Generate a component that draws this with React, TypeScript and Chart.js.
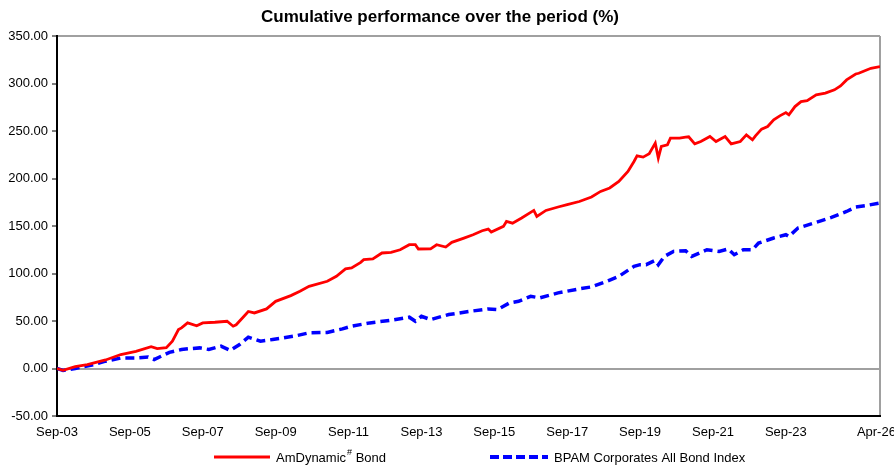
import React, { useEffect, useRef } from "react";
import { Chart, registerables } from "chart.js";

Chart.register(...registerables);

// ---- Data (months counted from Sep-03) ----
const tickMonths = [0, 24, 48, 72, 96, 120, 144, 168, 192, 216, 240, 271];
const tickLabels = ["Sep-03", "Sep-05", "Sep-07", "Sep-09", "Sep-11", "Sep-13", "Sep-15", "Sep-17", "Sep-19", "Sep-21", "Sep-23", "Apr-26"];

const fundName = "AmDynamic";
const fundSup = "#";
const fundSuffix = " Bond";
const indexName = "BPAM Corporates All Bond Index";

const fundMonths = [0, 2, 6, 10, 16, 21, 26, 31, 33, 36, 38, 40, 41, 43, 46, 48, 52, 56, 58, 59, 63, 65, 69, 72, 77, 80, 83, 89, 92, 95, 97, 100, 101, 104, 107, 110, 113, 116, 118, 119, 123, 125, 128, 130, 134, 137, 140, 142, 143, 147, 148, 150, 153, 157, 158, 161, 165, 168, 172, 176, 179, 182, 185, 188, 190, 191, 193, 195, 197, 198, 199, 201, 202, 205, 207, 208, 210, 212, 215, 217, 220, 222, 225, 227, 229, 230, 232, 234, 236, 238, 240, 241, 243, 245, 247, 250, 253, 256, 258, 260, 263, 264, 266, 268, 271];
const fundValues = [0, -2, 2, 4, 9, 14.7, 18, 23, 21, 22, 28.7, 41, 42.7, 48, 45, 48, 48.7, 49.7, 44.5, 46, 60, 58.5, 62.7, 70.7, 76.7, 81.3, 86.5, 91.8, 97, 104.8, 105.8, 111.7, 114.6, 115.3, 121.6, 122.3, 125, 130.3, 130.3, 125.8, 126, 130.3, 127.9, 132.8, 137.3, 140.8, 145, 146.8, 143.7, 149.6, 154.8, 153, 158.4, 166.4, 160, 166.4, 170, 172.4, 175.8, 180.5, 186.4, 190, 196.9, 207.4, 217.9, 223.9, 222.5, 226, 237.2, 221.5, 233.7, 235.4, 242.5, 242.5, 243.5, 243.9, 236.5, 238.9, 244.2, 238.9, 244.2, 236.5, 238.9, 245.9, 240.7, 244.9, 252, 254.7, 261.7, 265.9, 269.4, 267, 275.7, 281, 282, 288, 289.8, 293.3, 297.5, 303.8, 310, 310.8, 313.5, 316, 317.7];

const indexMonths = [0, 2, 6, 12, 16, 21, 26, 30, 32, 37, 41, 44, 47, 50, 54, 57, 60, 63, 67, 71, 78, 83, 89, 94, 97, 103, 110, 116, 118, 120, 123, 129, 136, 142, 145, 149, 152, 156, 159, 165, 172, 176, 181, 185, 190, 192, 194, 197, 198, 200, 203, 207, 209, 214, 218, 221, 223, 226, 229, 231, 236, 240, 241, 244, 251, 255, 260, 263, 266, 271];
const indexValues = [0, -2, 0, 4, 7.7, 11, 11, 12, 9.5, 17, 20, 21, 21.7, 20, 23.5, 19, 25, 33, 28.7, 30.5, 34, 37.5, 38, 41.7, 44.5, 48, 50.8, 54, 49.7, 55, 51.5, 56.8, 60.2, 62.7, 62, 69, 70.7, 76, 74.3, 79.6, 83.8, 85.9, 91.8, 97, 107.5, 109.3, 109.3, 113.8, 109.3, 118, 123.3, 124, 118, 125, 123.3, 125.8, 119.8, 125, 125, 132, 137.4, 140.8, 139, 147.9, 154.8, 159, 165.3, 170, 171.3, 174.2];

const FONT = 'Arial, "Liberation Sans", sans-serif';
const RED = "#ff0000";
const BLUE = "#0000ff";
const GREY = "#a0a0a0";

const legendPlugin = {
  id: "customLegend",
  afterDraw(chart: any) {
    const ctx = chart.ctx as CanvasRenderingContext2D;
    const y = 457;
    ctx.save();
    ctx.textBaseline = "middle";
    ctx.textAlign = "left";
    ctx.fillStyle = "#000";

    // fund item
    ctx.strokeStyle = RED;
    ctx.lineWidth = 3;
    ctx.setLineDash([]);
    ctx.beginPath();
    ctx.moveTo(214, y);
    ctx.lineTo(270, y);
    ctx.stroke();
    let x = 276;
    ctx.font = `13px ${FONT}`;
    ctx.fillText(fundName, x, y + 1);
    x += ctx.measureText(fundName).width + 1;
    ctx.font = `9px ${FONT}`;
    ctx.fillText(fundSup, x, y - 4);
    x += ctx.measureText(fundSup).width;
    ctx.font = `13px ${FONT}`;
    ctx.fillText(fundSuffix, x, y + 1);

    // index item
    ctx.strokeStyle = BLUE;
    ctx.lineWidth = 4;
    ctx.setLineDash([9, 4]);
    ctx.beginPath();
    ctx.moveTo(490, y);
    ctx.lineTo(548, y);
    ctx.stroke();
    ctx.setLineDash([]);
    ctx.fillText(indexName, 554, y + 1);
    ctx.restore();
  },
};

export default function App() {
  const canvasRef = useRef<HTMLCanvasElement | null>(null);

  useEffect(() => {
    document.body.style.margin = "0";
    const canvas = canvasRef.current;
    if (!canvas) return;
    const chart = new Chart(canvas, {
      type: "line",
      data: {
        datasets: [
          {
            label: fundName + fundSup + fundSuffix,
            data: fundMonths.map((m, i) => ({ x: m, y: fundValues[i] })),
            borderColor: RED,
            backgroundColor: RED,
            borderWidth: 2.8,
            pointRadius: 0,
            tension: 0,
            fill: false,
          },
          {
            label: indexName,
            data: indexMonths.map((m, i) => ({ x: m, y: indexValues[i] })),
            borderColor: BLUE,
            backgroundColor: BLUE,
            borderWidth: 3.5,
            borderDash: [9, 5],
            pointRadius: 0,
            tension: 0,
            fill: false,
          },
        ],
      },
      options: {
        animation: false,
        responsive: false,
        maintainAspectRatio: false,
        layout: { padding: { left: 0, right: 14, top: 0, bottom: 24 } },
        plugins: {
          legend: { display: false },
          tooltip: { enabled: false },
          title: {
            display: true,
            text: "Cumulative performance over the period (%)",
            color: "#000",
            font: { family: FONT, size: 17, weight: "bold" },
            padding: { top: 7, bottom: 8.6 },
          },
        },
        scales: {
          x: {
            type: "linear",
            min: 0,
            max: 271,
            afterBuildTicks: (s: any) => {
              s.ticks = tickMonths.map((v) => ({ value: v }));
            },
            afterFit: (s: any) => {
              s.height = 26;
              s.paddingLeft = 0;
              s.paddingRight = 0;
            },
            ticks: {
              autoSkip: false,
              maxRotation: 0,
              minRotation: 0,
              color: "#000",
              font: { family: FONT, size: 13 },
              padding: 9,
              callback: (_v: any, i: number) =>
                i === tickLabels.length - 1 ? tickLabels[i] + "  " : tickLabels[i],
            },
            grid: {
              drawTicks: false,
              lineWidth: 2,
              color: (c: any) => (c.tick && c.tick.value === 271 ? GREY : "rgba(0,0,0,0)"),
            },
            border: { color: "#000", width: 2 },
          },
          y: {
            min: -50,
            max: 350,
            afterFit: (s: any) => {
              s.width = 57;
              s.paddingTop = 0;
              s.paddingBottom = 0;
            },
            ticks: {
              stepSize: 50,
              color: "#000",
              font: { family: FONT, size: 13 },
              padding: 4,
              callback: (v: any) => Number(v).toFixed(2),
            },
            grid: {
              lineWidth: 2,
              tickLength: 5,
              tickColor: "#000",
              tickWidth: 1,
              color: (c: any) =>
                c.tick && (c.tick.value === 0 || c.tick.value === 350) ? GREY : "rgba(0,0,0,0)",
            },
            border: { color: "#000", width: 2 },
          },
        },
      },
      plugins: [legendPlugin],
    });
    return () => chart.destroy();
  }, []);

  return (
    <div style={{ width: 894, height: 466, position: "relative", background: "#fff" }}>
      <canvas ref={canvasRef} width={894} height={466} />
    </div>
  );
}
